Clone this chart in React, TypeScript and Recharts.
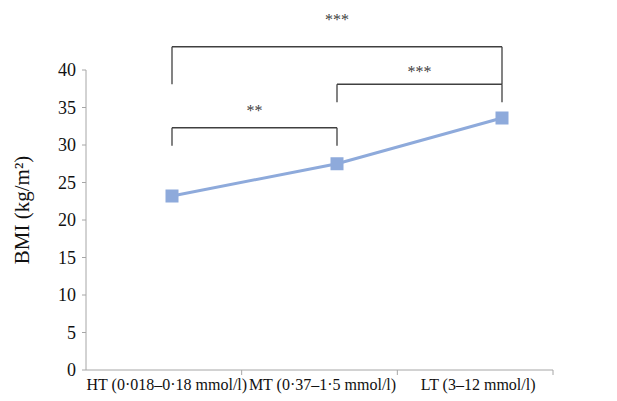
import { Line, LineChart, ReferenceLine, XAxis, YAxis } from "recharts";

const categories = ["HT (0·018–0·18 mmol/l)", "MT (0·37–1·5 mmol/l)", "LT (3–12 mmol/l)"];
const bmiValues = [23.2, 27.5, 33.6];
const yTicks = [0, 5, 10, 15, 20, 25, 30, 35, 40];

// significance brackets: category index pairs, heights in BMI units
const bracketPairs: [number, number][] = [
  [0, 2],
  [1, 2],
  [0, 1],
];
const bracketTop = [43.1, 38.1, 32.3];
const bracketEnd = [38.1, 35.7, 29.9];
const bracketLabels = ["***", "***", "**"];
const bracketLabelOffsets = [22, 7, 12];

const data = categories.map((name, i) => ({ name, bmi: bmiValues[i] }));

const SERIF = '"Liberation Serif", "Times New Roman", serif';
const AXIS = "#a6a6a6";
const BLUE = "#8eaadb";
const DARK = "#404040";

// eslint-disable-next-line @typescript-eslint/no-explicit-any
function CategoryTick({ x, y, payload }: any) {
  const half = payload?.offset ?? 0;
  return (
    <g>
      <line x1={x + half} x2={x + half} y1={y} y2={y + 5} stroke={AXIS} />
      <text x={x + 3} y={y} dy={20} textAnchor="middle" fontFamily={SERIF} fontSize={16} fill="#111">
        {payload.value}
      </text>
    </g>
  );
}

// eslint-disable-next-line @typescript-eslint/no-explicit-any
function YLabel({ viewBox }: any) {
  const cx = viewBox.x + 22;
  const cy = viewBox.y + viewBox.height / 2 - 10;
  return (
    <text
      x={cx}
      y={cy}
      transform={`rotate(-90 ${cx} ${cy})`}
      textAnchor="middle"
      dominantBaseline="central"
      fontFamily={SERIF}
      fontSize={21}
      fill="#111"
    >
      BMI (kg/m²)
    </text>
  );
}

// eslint-disable-next-line @typescript-eslint/no-explicit-any
function SquareDot({ cx, cy }: any) {
  if (cx == null || cy == null) return null;
  return <rect x={cx - 6.5} y={cy - 6.5} width={13} height={13} fill={BLUE} />;
}

export default function App() {
  return (
    <div style={{ position: "absolute", left: 0, top: 0, background: "#fff" }}>
      <LineChart width={617} height={401} data={data} margin={{ top: 70, right: 64, bottom: 0, left: 0 }}>
        <XAxis
          xAxisId="cat"
          dataKey="name"
          scale="band"
          height={31}
          stroke={AXIS}
          tickLine={false}
          tickSize={0}
          tickMargin={0}
          interval={0}
          tick={<CategoryTick />}
        />
        <XAxis xAxisId="pt" dataKey="name" hide padding={{ left: 86, right: 51 }} />
        <YAxis
          width={86}
          domain={[0, 40]}
          ticks={yTicks}
          allowDataOverflow
          stroke={AXIS}
          tickSize={4}
          tickMargin={6}
          tick={{ fill: "#111", fontSize: 18, fontFamily: SERIF }}
          label={<YLabel />}
        />
        <Line
          xAxisId="cat"
          dataKey="bmi"
          stroke="none"
          dot={false}
          activeDot={false}
          legendType="none"
          isAnimationActive={false}
        />
        <Line
          xAxisId="pt"
          dataKey="bmi"
          stroke={BLUE}
          strokeWidth={3}
          dot={<SquareDot />}
          activeDot={false}
          isAnimationActive={false}
        />
        {bracketPairs.map(([a], i) => (
          <ReferenceLine
            key={`v1-${i}`}
            xAxisId="pt"
            ifOverflow="visible"
            stroke={DARK}
            strokeWidth={1.3}
            segment={[
              { x: categories[a], y: bracketEnd[i] },
              { x: categories[a], y: bracketTop[i] },
            ]}
          />
        ))}
        {bracketPairs.map(([, b], i) => (
          <ReferenceLine
            key={`v2-${i}`}
            xAxisId="pt"
            ifOverflow="visible"
            stroke={DARK}
            strokeWidth={1.3}
            segment={[
              { x: categories[b], y: bracketEnd[i] },
              { x: categories[b], y: bracketTop[i] },
            ]}
          />
        ))}
        {bracketPairs.map(([a, b], i) => (
          <ReferenceLine
            key={`h-${i}`}
            xAxisId="pt"
            ifOverflow="visible"
            stroke={DARK}
            strokeWidth={1.3}
            segment={[
              { x: categories[a], y: bracketTop[i] },
              { x: categories[b], y: bracketTop[i] },
            ]}
            label={{
              value: bracketLabels[i],
              position: "top",
              offset: bracketLabelOffsets[i],
              fill: DARK,
              fontSize: 16,
              fontFamily: SERIF,
            }}
          />
        ))}
      </LineChart>
    </div>
  );
}
